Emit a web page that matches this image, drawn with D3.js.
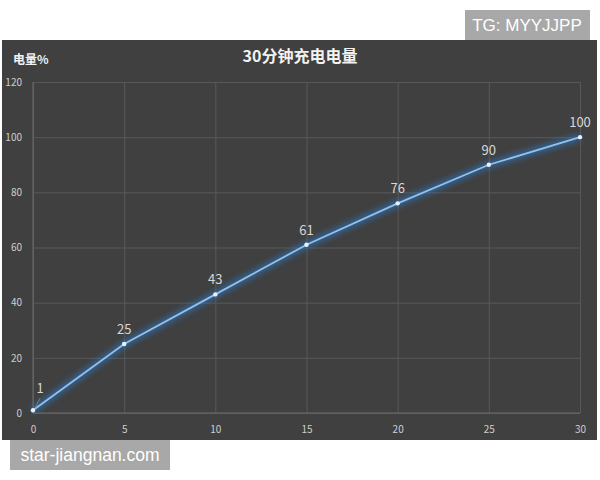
<!DOCTYPE html>
<html><head><meta charset="utf-8">
<script src="https://cdn.jsdelivr.net/npm/d3@7"></script>
<style>body{margin:0;background:#fff}svg{display:block}</style>
</head><body>
<svg id="c" width="600" height="480"></svg>
<script>
const minutes = [0, 5, 10, 15, 20, 25, 30];
const charge = [1, 25, 43, 61, 76, 90, 100];
const xTicks = [0, 5, 10, 15, 20, 25, 30];
const yTicks = [0, 20, 40, 60, 80, 100, 120];
const title = "30分钟充电电量";
const yTitle = "电量%";

const svg = d3.select("#c");
const font = "'Noto Sans CJK SC', 'Noto Sans', sans-serif";
svg.append("rect").attr("x", 2).attr("y", 40).attr("width", 595).attr("height", 400).attr("fill", "#404040");

const x = d3.scaleLinear().domain([0, 30]).range([33, 580]);
const y = d3.scaleLinear().domain([0, 120]).range([413, 82]);

const defs = svg.append("defs");
const f = defs.append("filter").attr("id", "glow").attr("x", "-20%").attr("y", "-20%").attr("width", "140%").attr("height", "140%");
f.append("feGaussianBlur").attr("stdDeviation", 3);

// grid
const gx = svg.append("g").attr("transform", "translate(0,413)")
  .call(d3.axisBottom(x).tickValues(xTicks).tickSize(-(413 - 82)).tickFormat(""));
gx.select(".domain").remove();
gx.selectAll(".tick line").attr("stroke", "#585858").attr("stroke-width", 1);
const gy = svg.append("g").attr("transform", "translate(33,0)")
  .call(d3.axisLeft(y).tickValues(yTicks).tickSize(-(580 - 33)).tickFormat(""));
gy.select(".domain").remove();
gy.selectAll(".tick line").attr("stroke", "#585858").attr("stroke-width", 1);
svg.append("line").attr("x1", 33).attr("x2", 33).attr("y1", 82).attr("y2", 413).attr("stroke", "#6a6a6a");
svg.append("line").attr("x1", 33).attr("x2", 580).attr("y1", 413).attr("y2", 413).attr("stroke", "#6a6a6a");

// tick labels
const xl = svg.append("g").attr("transform", "translate(0,413)")
  .call(d3.axisBottom(x).tickValues(xTicks).tickSize(0).tickPadding(13));
xl.select(".domain").remove();
xl.selectAll("text").attr("fill", "#cfcfcf").attr("font-size", 10).attr("font-family", font);
const yl = svg.append("g").attr("transform", "translate(33,0)")
  .call(d3.axisLeft(y).tickValues(yTicks).tickSize(0).tickPadding(11));
yl.select(".domain").remove();
yl.selectAll("text").attr("fill", "#cfcfcf").attr("font-size", 10).attr("font-family", font);

// titles
svg.append("text").attr("x", 300).attr("y", 62).attr("text-anchor", "middle")
  .attr("fill", "#f2f2f2").attr("font-size", 16).attr("font-weight", "bold").attr("font-family", font).text(title);
svg.append("text").attr("x", 13).attr("y", 64)
  .attr("fill", "#f2f2f2").attr("font-size", 12).attr("font-weight", "bold").attr("font-family", font).text(yTitle);

// line
const data = minutes.map((d, i) => ({ m: d, v: charge[i] }));
const line = d3.line().x(d => x(d.m)).y(d => y(d.v));
svg.append("path").datum(data).attr("d", line).attr("fill", "none")
  .attr("stroke", "#2a7fd8").attr("stroke-width", 5).attr("opacity", 0.75).attr("filter", "url(#glow)");
svg.append("path").datum(data).attr("d", line).attr("fill", "none")
  .attr("stroke", "#8fc2ee").attr("stroke-width", 1.8);
svg.selectAll("circle.pt").data(data).enter().append("circle")
  .attr("cx", d => x(d.m)).attr("cy", d => y(d.v)).attr("r", 2.2).attr("fill", "#e6f3ff");

// data labels
svg.selectAll("text.lbl").data(data).enter().append("text")
  .attr("x", d => d.m === 0 ? x(d.m) + 7 : x(d.m))
  .attr("y", d => d.m === 0 ? y(d.v) - 17 : y(d.v) - 10)
  .attr("text-anchor", "middle").attr("fill", "#d8d8d8").attr("font-size", 13).attr("font-family", font)
  .text(d => d.v);
svg.append("line").attr("x1", x(0) + 2).attr("y1", y(1) - 2).attr("x2", x(0) + 7).attr("y2", y(1) - 12)
  .attr("stroke", "#888").attr("stroke-width", 0.8);

// watermarks
svg.append("rect").attr("x", 465).attr("y", 10).attr("width", 125).attr("height", 30).attr("fill", "#a8a8a8");
svg.append("text").attr("x", 527).attr("y", 31).attr("text-anchor", "middle").attr("fill", "#fff")
  .attr("font-size", 17).attr("font-family", "'Liberation Sans', Arial, sans-serif").text("TG: MYYJJPP");
svg.append("rect").attr("x", 10).attr("y", 440).attr("width", 160).attr("height", 30).attr("fill", "#a8a8a8");
svg.append("text").attr("x", 90).attr("y", 461).attr("text-anchor", "middle").attr("fill", "#fff")
  .attr("font-size", 17.5).attr("font-family", "'Liberation Sans', Arial, sans-serif").text("star-jiangnan.com");
</script>
</body></html>
